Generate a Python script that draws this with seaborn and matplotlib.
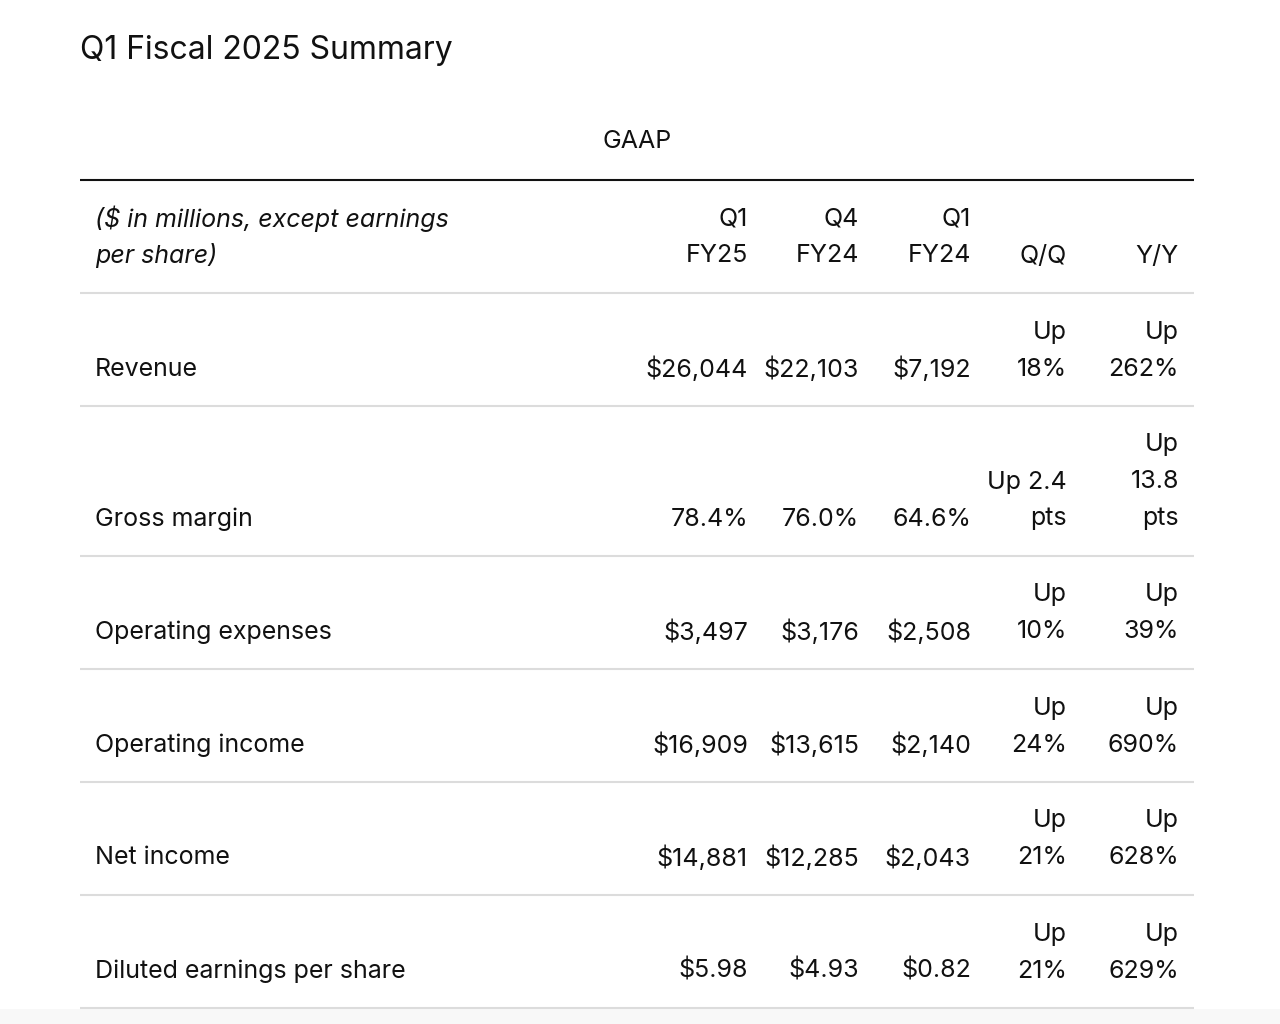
import matplotlib
matplotlib.use("Agg")
import matplotlib.pyplot as plt
import seaborn as sns

# Table content
title = "Q1 Fiscal 2025 Summary"
group_label = "GAAP"
header_label = "($ in millions, except earnings\nper share)"
columns = ["Q1\nFY25", "Q4\nFY24", "Q1\nFY24", "Q/Q", "Y/Y"]

metrics = ["Revenue", "Gross margin", "Operating expenses",
           "Operating income", "Net income", "Diluted earnings per share"]
q1_fy25 = ["$26,044", "78.4%", "$3,497", "$16,909", "$14,881", "$5.98"]
q4_fy24 = ["$22,103", "76.0%", "$3,176", "$13,615", "$12,285", "$4.93"]
q1_fy24 = ["$7,192", "64.6%", "$2,508", "$2,140", "$2,043", "$0.82"]
qoq = ["Up\n18%", "Up 2.4\npts", "Up\n10%", "Up\n24%", "Up\n21%", "Up\n21%"]
yoy = ["Up\n262%", "Up\n13.8\npts", "Up\n39%", "Up\n690%", "Up\n628%", "Up\n629%"]

sns.set_theme(style="white")
plt.rcParams['font.family'] = ['Inter', 'DejaVu Sans']

fig = plt.figure(figsize=(12.8, 10.24), dpi=100)
ax = fig.add_axes([0, 0, 1, 1])
ax.set_xlim(0, 1280)
ax.set_ylim(1024, 0)
ax.axis("off")

FS = 18
LINE = 37
PAD = 38
left, right = 80, 1194
label_x = 95
col_right = [748, 859, 971, 1067, 1179]


def draw_cell(x, bottom, text, ha="right", style="normal"):
    lines = text.split("\n")
    n = len(lines)
    for i, s in enumerate(lines):
        y = bottom - PAD - (n - 1 - i) * LINE + 1
        ax.text(x, y, s, ha=ha, va="center", fontsize=FS, style=style, color="#111111")


ax.text(80, 51, title, ha="left", va="center", fontsize=23, color="#111111")
ax.text(637, 142, group_label, ha="center", va="center", fontsize=FS, color="#111111")
ax.hlines(180, left, right, color="#111111", lw=1.5)

# header row
y0 = 180
bottom = y0 + 2 * LINE + 39
draw_cell(label_x, bottom, header_label, ha="left", style="italic")
for x, c in zip(col_right, columns):
    draw_cell(x, bottom, c)
ax.hlines(bottom, left, right, color="#dcdcdc", lw=1.5)

# body rows
for i, m in enumerate(metrics):
    cells = [q1_fy25[i], q4_fy24[i], q1_fy24[i], qoq[i], yoy[i]]
    n = max(c.count("\n") + 1 for c in cells)
    bottom = bottom + n * LINE + 39
    draw_cell(label_x, bottom, m, ha="left")
    for x, c in zip(col_right, cells):
        draw_cell(x, bottom, c)
    ax.hlines(bottom, left, right, color="#dcdcdc", lw=1.5)

# faint strip under the table
ax.axhspan(bottom + 1, 1024, color="#f8f8f8", lw=0, zorder=0)

fig.savefig("out.png", dpi=100, facecolor="white")
